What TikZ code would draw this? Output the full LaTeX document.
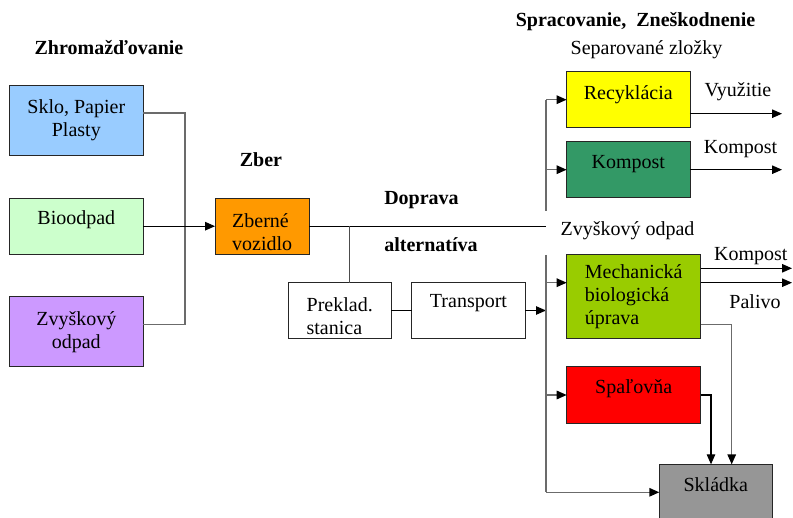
\documentclass[tikz,border=0pt]{standalone}
\usepackage{fontspec}
\setmainfont{Liberation Serif}
\usetikzlibrary{arrows.meta}
\begin{document}
\begin{tikzpicture}[x=1pt,y=-1pt,>={Triangle[length=10pt,width=8.5pt,color=black]},
        line width=1.1pt,
        every node/.style={font=\fontsize{20}{23}\selectfont},
        box node/.style={draw=black!85,line width=0.9pt,inner sep=0pt,outer sep=0pt},
        gray line/.style={draw=black!58,line width=1.4pt},
        title/.style={anchor=base,font=\fontsize{20}{23}\selectfont\bfseries},
        plain label/.style={anchor=base}]

      \useasboundingbox (0,0) rectangle (793,518);

      % zhromazdovanie
      \node[box node,fill={rgb,255:red,153;green,204;blue,255},minimum width=134.3pt,minimum height=70.4pt,align=center] (sklo) at (76.3,120.5) {Sklo, Papier\\Plasty};
      \node[box node,fill={rgb,255:red,204;green,255;blue,204},minimum width=134.3pt,minimum height=55.7pt,text height=14pt,text depth=16.4pt] (bio) at (76.3,226.2) {Bioodpad};
      \node[box node,fill={rgb,255:red,204;green,153;blue,255},minimum width=134.3pt,minimum height=70pt,align=center] (zvysok) at (76.3,331.7) {Zvyškový\\odpad};

      % zber a doprava
      \node[box node,fill={rgb,255:red,255;green,153;blue,0},minimum width=94.3pt,minimum height=55.7pt,align=left] (zber) at (262.2,226.2) {\rule{0pt}{26pt}Zberné\\vozidlo};
      \node[box node,fill=white,minimum width=102.7pt,minimum height=55.7pt,align=left] (preklad) at (339.7,310.5) {\rule{0pt}{26pt}Preklad.\\stanica};
      \node[box node,fill=white,minimum width=113.6pt,minimum height=55.6pt,text height=14pt,text depth=19pt] (transport) at (468.5,310.5) {Transport};

      % spracovanie
      \node[box node,fill={rgb,255:red,255;green,255;blue,0},minimum width=123.3pt,minimum height=56pt,text height=14pt,text depth=13.4pt] (recyk) at (628.3,99.7) {Recyklácia};
      \node[box node,fill={rgb,255:red,51;green,153;blue,102},minimum width=123.3pt,minimum height=56pt,text height=14pt,text depth=16.8pt] (kompost) at (628.3,169.7) {Kompost};
      \node[box node,fill={rgb,255:red,153;green,204;blue,0},minimum width=134pt,minimum height=84pt,align=left] (mbu) at (633.7,296.3) {Mechanická\\biologická\\úprava};
      \node[box node,fill={rgb,255:red,255;green,0;blue,0},minimum width=134pt,minimum height=56.6pt,text height=14pt,text depth=17.4pt] (spal) at (633.7,395) {Spaľovňa};
      \node[box node,fill={rgb,255:red,150;green,150;blue,150},minimum width=113pt,minimum height=57.7pt,text height=14pt,text depth=17pt] (skladka) at (715.8,493.2) {Skládka};

      % nadpisy
      \node[title] (zhrom) at (109,55) {Zhromažďovanie};
      \node[title] (zberT) at (261,166.7) {Zber};
      \node[title] (doprava) at (421.5,205) {Doprava};
      \node[title] (alter) at (431,251.7) {alternatíva};
      \node[title] (sprac) at (635.5,26.7) {Spracovanie,\ \ Zneškodnenie};
      \node[plain label] (separ) at (646.5,55) {Separované zložky};
      \node[plain label] (zvysokL) at (627.5,236) {Zvyškový odpad};
      \node[plain label] (vyuzL) at (738,96.7) {Využitie};
      \node[plain label] (kompL) at (740.5,153.3) {Kompost};
      \node[plain label] (kompL2) at (750.8,261) {Kompost};
      \node[plain label] (palL) at (755,308.3) {Palivo};

      % spoje
      \coordinate (join) at (185,226.2);
      \coordinate (bus) at (546,226.2);
      \coordinate (split) at (349.3,226.2);
      \coordinate (bustop) at (546,99.7);
      \coordinate (gaptop) at (546,211);
      \coordinate (gapbot) at (546,255);
      \coordinate (busbot) at (546,492.3);
      \coordinate (vyuz) at (782,113.7);
      \coordinate (komp) at (782,169.7);
      \coordinate (mbuK) at (792,268.3);
      \coordinate (mbuP) at (792,282.7);
      \coordinate (mbuS) at (731.7,324.3);
      \coordinate (spalS) at (711,395);

      \draw[gray line] ([yshift=7.5pt]sklo.east) -| (join) |- ([yshift=7.4pt]zvysok.east);
      \draw[->] (bio) -- (zber);
      \draw (zber) -- (bus);
      \draw[draw=black!70] (split) -- (split |- preklad.north);
      \draw (preklad) -- (transport);
      \draw[->] (transport) -- (transport -| bus);

      \draw[gray line] (bustop) -- (gaptop);
      \draw[gray line] (gapbot) -- (busbot);
      \draw[gray line,->] (bustop) -- (recyk);
      \draw[gray line,->] (bustop |- kompost) -- (kompost);
      \draw[gray line,->] ([yshift=13.6pt]mbu.west -| bus) -- ([yshift=13.6pt]mbu.west);
      \draw[gray line,->] (bustop |- spal) -- (spal);
      \draw[gray line,->] (busbot) -- (busbot -| skladka.west);

      \draw[->] (recyk.east |- vyuz) -- (vyuz);
      \draw[->] (kompost) -- (komp);
      \draw[->] (mbu.east |- mbuK) -- (mbuK);
      \draw[->] (mbu.east |- mbuP) -- (mbuP);
      \draw[gray line,->] (mbu.east |- mbuS) -| (skladka.north -| mbuS);
      \draw[->] (spal) -- (spalS) -- (skladka.north -| spalS);
    \end{tikzpicture}
\end{document}
